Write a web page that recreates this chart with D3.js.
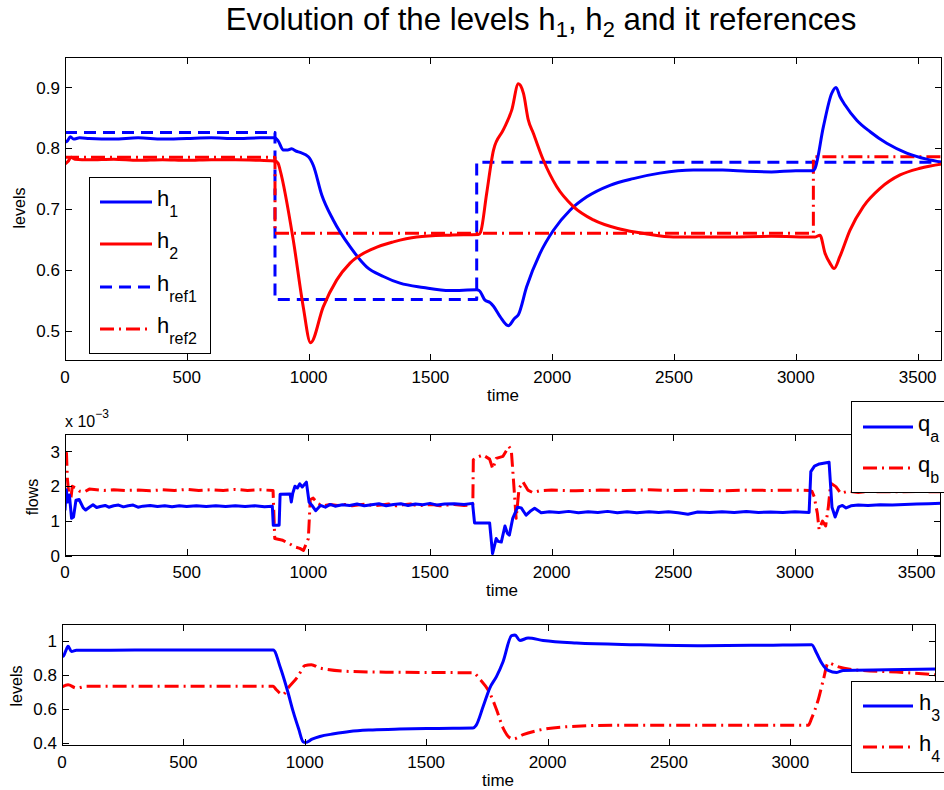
<!DOCTYPE html>
<html><head><meta charset="utf-8">
<script src="https://cdn.jsdelivr.net/npm/d3@7"></script>
<style>
body{margin:0;background:#fff}
svg{display:block}
text{font-family:"Liberation Sans",Arial,Helvetica,sans-serif;fill:#000}
</style>
</head><body>
<svg id="chart" width="944" height="790"></svg>
<script>
// ---------------- DATA ----------------
const timeTicks = [0, 500, 1000, 1500, 2000, 2500, 3000, 3500];
const levelTicksTop = [0.5, 0.6, 0.7, 0.8, 0.9];
const flowTicks = [0, 1, 2, 3];
const levelTicksBottom = [0.4, 0.6, 0.8, 1];
const levelTickLabelsBottom = ["0.4", "0.6", "0.8", "1"];

// [time, level]
const h1 = [[0,0.810],[10,0.812],[22,0.819],[35,0.815],[60,0.817],[100,0.816],[200,0.815],[300,0.817],[400,0.815],[500,0.816],[600,0.817],[700,0.816],[800,0.817],[860,0.817],[875,0.812],[896,0.797],[915,0.797],[930,0.799],[950,0.795],[965,0.793],[999,0.786],[1019,0.772],[1054,0.723],[1101,0.682],[1170,0.638],[1238,0.605],[1307,0.589],[1375,0.578],[1471,0.571],[1580,0.566],[1690,0.567],[1700,0.566],[1724,0.550],[1745,0.546],[1759,0.540],[1786,0.523],[1820,0.508],[1845,0.520],[1861,0.526],[1895,0.572],[1950,0.627],[2005,0.665],[2073,0.698],[2142,0.720],[2237,0.739],[2333,0.750],[2442,0.759],[2579,0.764],[2700,0.764],[2800,0.762],[2900,0.761],[3000,0.763],[3072,0.763],[3079,0.767],[3113,0.835],[3147,0.890],[3165,0.900],[3181,0.885],[3202,0.871],[3250,0.846],[3305,0.827],[3373,0.808],[3455,0.792],[3537,0.782],[3600,0.777]];
const h2 = [[0,0.774],[12,0.778],[25,0.785],[40,0.782],[100,0.781],[200,0.782],[300,0.780],[400,0.781],[500,0.780],[600,0.781],[700,0.781],[800,0.780],[862,0.779],[875,0.775],[883,0.764],[937,0.649],[978,0.539],[1008,0.480],[1060,0.539],[1115,0.583],[1170,0.611],[1266,0.635],[1348,0.646],[1444,0.654],[1580,0.657],[1697,0.658],[1706,0.662],[1731,0.726],[1759,0.797],[1799,0.830],[1834,0.863],[1861,0.906],[1870,0.903],[1882,0.890],[1902,0.846],[1922,0.825],[1963,0.781],[2018,0.737],[2087,0.704],[2169,0.682],[2278,0.667],[2388,0.659],[2497,0.654],[2700,0.654],[2900,0.655],[3080,0.654],[3099,0.657],[3120,0.627],[3140,0.611],[3157,0.602],[3181,0.622],[3222,0.665],[3277,0.704],[3346,0.734],[3428,0.756],[3510,0.767],[3600,0.774]];
const href1 = [[0,0.826],[862,0.826],[862,0.551],[1690,0.551],[1690,0.777],[3600,0.777]];
const href2 = [[0,0.785],[862,0.785],[862,0.660],[3072,0.660],[3072,0.786],[3600,0.786]];

// [time, flow x 1e-3]
const qa = [[0,1.31],[5,1.90],[12,1.55],[18,1.75],[27,1.08],[35,1.12],[45,1.60],[58,1.62],[75,1.38],[85,1.32],[100,1.40],[115,1.47],[130,1.39],[145,1.42],[165,1.45],[180,1.40],[200,1.44],[220,1.46],[240,1.41],[260,1.44],[280,1.46],[300,1.40],[320,1.43],[350,1.45],[380,1.42],[410,1.44],[440,1.41],[470,1.44],[500,1.42],[540,1.44],[580,1.42],[620,1.44],[660,1.42],[700,1.44],[740,1.42],[780,1.44],[820,1.41],[852,1.43],[856,0.88],[880,0.88],[884,1.77],[925,1.78],[930,1.55],[936,1.80],[945,2.00],[955,1.95],[965,2.07],[975,1.98],[992,2.12],[1003,1.55],[1015,1.45],[1030,1.30],[1050,1.45],[1070,1.40],[1090,1.48],[1110,1.43],[1140,1.47],[1170,1.45],[1200,1.49],[1230,1.44],[1260,1.47],[1290,1.50],[1320,1.44],[1350,1.48],[1380,1.50],[1410,1.45],[1440,1.49],[1470,1.47],[1500,1.51],[1530,1.46],[1560,1.49],[1600,1.50],[1640,1.48],[1675,1.51],[1683,0.95],[1745,0.95],[1757,0.07],[1772,0.50],[1780,0.42],[1793,0.40],[1808,0.86],[1818,0.65],[1826,0.60],[1840,1.08],[1860,1.40],[1875,1.38],[1895,1.17],[1915,1.30],[1930,1.37],[1957,1.24],[1990,1.27],[2030,1.25],[2070,1.28],[2110,1.24],[2150,1.27],[2190,1.25],[2230,1.28],[2270,1.24],[2310,1.27],[2350,1.24],[2400,1.27],[2440,1.25],[2480,1.27],[2520,1.24],[2560,1.20],[2600,1.26],[2650,1.25],[2700,1.27],[2750,1.25],[2800,1.28],[2850,1.25],[2900,1.26],[2950,1.25],[3000,1.27],[3058,1.25],[3065,2.42],[3080,2.58],[3100,2.64],[3140,2.69],[3152,1.40],[3165,1.12],[3180,1.41],[3195,1.45],[3210,1.38],[3230,1.44],[3260,1.46],[3300,1.45],[3350,1.47],[3400,1.46],[3450,1.48],[3500,1.49],[3550,1.50],[3600,1.51]];
const qb = [[0,2.95],[6,2.95],[10,2.20],[18,1.60],[25,1.70],[30,2.00],[45,1.95],[60,1.86],[80,1.84],[100,1.92],[130,1.90],[160,1.88],[200,1.90],[250,1.88],[300,1.89],[350,1.87],[400,1.90],[450,1.88],[500,1.91],[550,1.88],[600,1.90],[650,1.88],[700,1.91],[750,1.88],[800,1.90],[855,1.88],[862,0.50],[895,0.45],[920,0.36],[945,0.26],[965,0.22],[980,0.16],[992,0.36],[1000,0.50],[1008,1.62],[1020,1.66],[1040,1.50],[1060,1.44],[1090,1.48],[1120,1.45],[1150,1.48],[1180,1.44],[1210,1.47],[1240,1.49],[1270,1.44],[1300,1.46],[1330,1.49],[1360,1.44],[1390,1.47],[1420,1.49],[1450,1.44],[1480,1.46],[1510,1.48],[1540,1.44],[1570,1.46],[1600,1.48],[1640,1.45],[1676,1.47],[1678,2.76],[1700,2.85],[1717,2.90],[1745,2.78],[1758,2.50],[1772,2.80],[1800,2.86],[1824,3.14],[1834,3.05],[1843,2.18],[1854,1.08],[1866,1.94],[1882,2.13],[1902,1.89],[1922,1.82],[1950,1.87],[2000,1.89],[2100,1.87],[2200,1.89],[2300,1.88],[2400,1.90],[2500,1.88],[2600,1.89],[2700,1.87],[2800,1.89],[2900,1.88],[3000,1.89],[3058,1.88],[3070,1.85],[3079,1.70],[3092,1.22],[3099,0.76],[3113,1.00],[3126,0.86],[3137,1.41],[3147,2.09],[3168,1.99],[3188,1.80],[3220,1.86],[3260,1.82],[3300,1.85],[3400,1.84],[3500,1.85],[3600,1.84]];

// [time, level]
const h3 = [[0,0.915],[5,0.909],[15,0.940],[25,0.968],[39,0.938],[59,0.945],[100,0.945],[300,0.946],[500,0.946],[700,0.946],[870,0.946],[900,0.840],[930,0.700],[952,0.584],[975,0.480],[993,0.405],[1003,0.400],[1030,0.420],[1062,0.436],[1120,0.452],[1185,0.466],[1280,0.475],[1391,0.480],[1550,0.484],[1693,0.486],[1705,0.500],[1735,0.614],[1762,0.722],[1790,0.791],[1817,0.879],[1852,1.031],[1866,1.035],[1886,1.003],[1920,1.017],[1982,1.003],[2119,0.988],[2366,0.978],[2641,0.972],[2900,0.975],[3088,0.978],[3108,0.929],[3129,0.870],[3156,0.826],[3191,0.814],[3218,0.826],[3400,0.830],[3600,0.834]];
const h4 = [[0,0.728],[25,0.742],[59,0.722],[100,0.732],[400,0.733],[870,0.732],[883,0.712],[910,0.683],[931,0.722],[972,0.791],[1000,0.854],[1027,0.860],[1062,0.840],[1185,0.820],[1391,0.815],[1693,0.812],[1721,0.775],[1762,0.693],[1790,0.594],[1817,0.486],[1858,0.421],[1899,0.447],[1954,0.470],[2092,0.495],[2298,0.503],[3074,0.503],[3088,0.545],[3115,0.653],[3136,0.771],[3156,0.870],[3191,0.850],[3260,0.830],[3464,0.814],[3600,0.800]];

// ---------------- DRAW ----------------
const svg = d3.select("#chart");
const BLUE = "#0000ff", RED = "#ff0000";
const STYLES = {
  solid: {dash: null},
  dashed: {dash: "12,7"},
  dashdot: {dash: "14,5,2,5"}
};

const panels = [
  {id:"p1", x0:65, x1:942, y0:57, y1:361, yDomain:[0.45,0.95], yTicks:levelTicksTop,
   yFmt:d3.format(".1f"), ylabel:"levels", ylabelX:25, ylabelY:208, timeX:503, timeY:401,
   hiddenXLabels:[],
   series:[{d:href1,c:BLUE,s:"dashed",curve:d3.curveLinear},{d:href2,c:RED,s:"dashdot",curve:d3.curveLinear},
           {d:h1,c:BLUE,s:"solid",curve:d3.curveMonotoneX},{d:h2,c:RED,s:"solid",curve:d3.curveMonotoneX}]},
  {id:"p2", x0:65, x1:941, y0:434, y1:556, yDomain:[0,3.5], yTicks:flowTicks,
   yFmt:d3.format("d"), ylabel:"flows", ylabelX:38, ylabelY:497, timeX:502, timeY:596,
   hiddenXLabels:[],
   series:[{d:qb,c:RED,s:"dashdot",curve:d3.curveLinear},{d:qa,c:BLUE,s:"solid",curve:d3.curveLinear}]},
  {id:"p3", x0:62, x1:936, y0:624, y1:746, yDomain:[0.38,1.1], yTicks:levelTicksBottom,
   yFmt:(v,i)=>levelTickLabelsBottom[i], ylabel:"levels", ylabelX:22, ylabelY:686, timeX:498, timeY:786,
   hiddenXLabels:[3500], // covered by the legend box in the reference
   series:[{d:h4,c:RED,s:"dashdot",curve:d3.curveMonotoneX},{d:h3,c:BLUE,s:"solid",curve:d3.curveMonotoneX}]}
];

const defs = svg.append("defs");
const TICK = 7;

panels.forEach(p => {
  const x = d3.scaleLinear().domain([0,3600]).range([p.x0,p.x1]);
  const y = d3.scaleLinear().domain(p.yDomain).range([p.y1,p.y0]);
  defs.append("clipPath").attr("id","clip-"+p.id).append("rect")
    .attr("x",p.x0).attr("y",p.y0).attr("width",p.x1-p.x0).attr("height",p.y1-p.y0);
  const g = svg.append("g");

  const lg = g.append("g").attr("clip-path","url(#clip-"+p.id+")");
  p.series.forEach(s => {
    const line = d3.line().x(d=>x(d[0])).y(d=>y(d[1])).curve(s.curve);
    lg.append("path").attr("d", line(s.d)).attr("fill","none")
      .attr("stroke", s.c).attr("stroke-width", 3)
      .attr("stroke-linejoin","round")
      .attr("stroke-dasharray", STYLES[s.s].dash);
  });

  g.append("rect").attr("x",p.x0+0.5).attr("y",p.y0+0.5)
    .attr("width",p.x1-p.x0-1).attr("height",p.y1-p.y0-1)
    .attr("fill","none").attr("stroke","#000").attr("stroke-width",1);

  timeTicks.forEach(t => {
    const px = Math.round(x(t))+0.5;
    g.append("line").attr("x1",px).attr("x2",px).attr("y1",p.y1).attr("y2",p.y1-TICK).attr("stroke","#000");
    g.append("line").attr("x1",px).attr("x2",px).attr("y1",p.y0).attr("y2",p.y0+TICK).attr("stroke","#000");
    if (!p.hiddenXLabels.includes(t))
      g.append("text").attr("x",x(t)).attr("y",p.y1+22).attr("text-anchor","middle")
        .attr("font-size",17).text(t);
  });
  p.yTicks.forEach((v,i) => {
    const py = Math.round(y(v))+0.5;
    g.append("line").attr("x1",p.x0).attr("x2",p.x0+TICK).attr("y1",py).attr("y2",py).attr("stroke","#000");
    g.append("line").attr("x1",p.x1).attr("x2",p.x1-TICK).attr("y1",py).attr("y2",py).attr("stroke","#000");
    g.append("text").attr("x",p.x0-5).attr("y",y(v)).attr("dy","0.36em").attr("text-anchor","end")
      .attr("font-size",17).text(p.yFmt(v,i));
  });
  g.append("text").attr("transform",`translate(${p.ylabelX},${p.ylabelY}) rotate(-90)`)
    .attr("text-anchor","middle").attr("font-size",16).text(p.ylabel);
  g.append("text").attr("x",p.timeX).attr("y",p.timeY).attr("text-anchor","middle")
    .attr("font-size",17).text("time");
});

// exponent label of flows
const ex = svg.append("text").attr("x",65).attr("y",427).attr("font-size",16);
ex.append("tspan").text("x 10");
ex.append("tspan").attr("dy",-9).attr("font-size",12).text("\u22123");

// title
const title = svg.append("text").attr("x",541).attr("y",30).attr("text-anchor","middle").attr("font-size",26);
title.append("tspan").text("Evolution of the levels h");
title.append("tspan").attr("dy",7).attr("font-size","0.7em").text("1");
title.append("tspan").attr("dy",-7).text(", h");
title.append("tspan").attr("dy",7).attr("font-size","0.7em").text("2");
title.append("tspan").attr("dy",-7).text(" and it references");
const tw = title.node().getComputedTextLength();
title.attr("font-size", 26*631/tw);

// legends
function legend(bx, by, bw, bh, lx1, lx2, tx, items){
  const g = svg.append("g");
  g.append("rect").attr("x",bx+0.5).attr("y",by+0.5).attr("width",bw).attr("height",bh)
    .attr("fill","#fff").attr("stroke","#000").attr("stroke-width",1);
  items.forEach(it => {
    g.append("line").attr("x1",lx1).attr("x2",lx2).attr("y1",it.y).attr("y2",it.y)
      .attr("stroke",it.c).attr("stroke-width",3).attr("stroke-dasharray",STYLES[it.s].dash);
    const t = g.append("text").attr("x",tx).attr("y",it.y+4).attr("font-size",22);
    t.append("tspan").text(it.base);
    t.append("tspan").attr("dy",11).attr("font-size",16).text(it.sub);
  });
}
legend(89, 177, 121, 176, 100, 152, 157, [
  {base:"h",sub:"1",c:BLUE,s:"solid",y:202},
  {base:"h",sub:"2",c:RED,s:"solid",y:244},
  {base:"h",sub:"ref1",c:BLUE,s:"dashed",y:287},
  {base:"h",sub:"ref2",c:RED,s:"dashdot",y:329}
]);
legend(851, 401, 100, 91, 863, 913, 918, [
  {base:"q",sub:"a",c:BLUE,s:"solid",y:427},
  {base:"q",sub:"b",c:RED,s:"dashdot",y:468}
]);
legend(851, 681, 100, 91, 863, 913, 919, [
  {base:"h",sub:"3",c:BLUE,s:"solid",y:706},
  {base:"h",sub:"4",c:RED,s:"dashdot",y:747}
]);
</script>
</body></html>
